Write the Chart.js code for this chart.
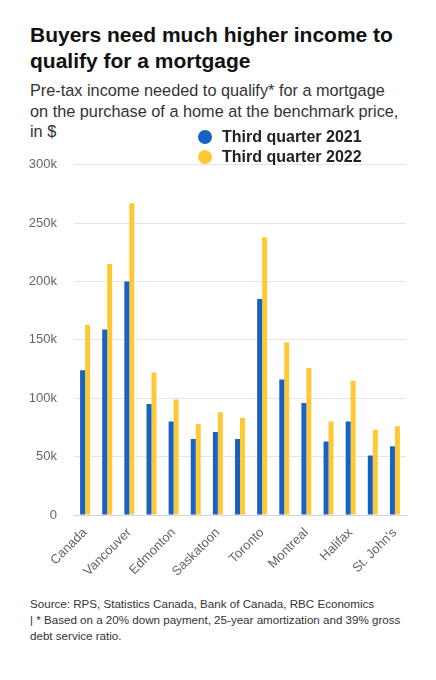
<!DOCTYPE html>
<html>
<head>
<meta charset="utf-8">
<script src="https://cdn.jsdelivr.net/npm/chart.js@4"></script>
<style>
    body { margin: 0; background: #fff; font-family: "Liberation Sans", Arial, sans-serif; }
    #page { position: relative; width: 436px; height: 680px; overflow: hidden; }
    .title { position: absolute; left: 30px; top: 22px; font-size: 21px; font-weight: 700; line-height: 26px; color: #111; }
    .subtitle { position: absolute; left: 30px; top: 80px; font-size: 16.3px; line-height: 20.5px; color: #333; }
    #chartBox { position: absolute; left: 0; top: 140px; width: 436px; height: 435px; }
    #legend { position: absolute; left: 198px; top: 127px; }
    .legend-item { display: flex; align-items: center; height: 20px; font-size: 16px; font-weight: 700; color: #222; }
    .legend-dot { width: 14px; height: 14px; border-radius: 50%; margin-right: 10px; }
    .footer { position: absolute; left: 30px; top: 596px; font-size: 11.6px; line-height: 16px; color: #333; }
</style>
</head>
<body>
<div id="page">
    <div class="title">Buyers need much higher income to<br>qualify for a mortgage</div>
    <div class="subtitle">Pre-tax income needed to qualify* for a mortgage<br>on the purchase of a home at the benchmark price,<br>in $</div>
    <div id="chartBox"><canvas id="incomeChart"></canvas></div>
    <div id="legend"></div>
    <div class="footer">Source: RPS, Statistics Canada, Bank of Canada, RBC Economics<br>| * Based on a 20% down payment, 25-year amortization and 39% gross<br>debt service ratio.</div>
</div>
<script>
    // Datos (solo se muestran una de cada dos etiquetas)
    const cities = ['Canada', 'Victoria', 'Vancouver', 'Calgary', 'Edmonton', 'Regina', 'Saskatoon', 'Winnipeg',
        'Toronto', 'Ottawa', 'Montreal', 'Quebec City', 'Halifax', 'Moncton', "St. John's"];
    const q3_2021 = [124000, 159000, 200000, 95000, 80000, 65000, 71000, 65000, 185000, 116000, 96000, 63000, 80000, 51000, 59000];
    const q3_2022 = [163000, 215000, 267000, 122000, 99000, 78000, 88000, 83000, 238000, 148000, 126000, 80000, 115000, 73000, 76000];
    const seriesNames = ['Third quarter 2021', 'Third quarter 2022'];
    const yTicks = [0, 50000, 100000, 150000, 200000, 250000, 300000];

    const colors = ['#1762c4', '#ffc934'];
    const tickFont = { family: '"Liberation Sans", Arial, sans-serif', size: 13 };

    const chart = new Chart(document.getElementById('incomeChart'), {
        type: 'bar',
        data: {
            labels: cities,
            datasets: [
                { label: seriesNames[0], data: q3_2021, backgroundColor: colors[0] },
                { label: seriesNames[1], data: q3_2022, backgroundColor: colors[1] }
            ]
        },
        options: {
            responsive: true,
            maintainAspectRatio: false,
            animation: false,
            layout: { padding: { top: 10, right: 30, left: 0, bottom: 0 } },
            datasets: { bar: { categoryPercentage: 0.45, barPercentage: 1.0 } },
            plugins: {
                legend: { display: false },
                tooltip: { enabled: false }
            },
            scales: {
                x: {
                    grid: { display: false },
                    border: { display: true, color: '#ccd6eb', width: 1 },
                    ticks: {
                        autoSkip: false,
                        maxRotation: 45,
                        minRotation: 45,
                        color: '#666',
                        font: tickFont,
                        padding: 2,
                        callback: (v, i) => (i % 2 === 0 ? cities[i] : '')
                    },
                    afterFit: (scale) => { scale.height = 60; }
                },
                y: {
                    min: yTicks[0],
                    max: yTicks[yTicks.length - 1],
                    afterBuildTicks: (scale) => { scale.ticks = yTicks.map(v => ({ value: v })); },
                    grid: { color: '#e6e6e6', drawTicks: false },
                    border: { display: false },
                    ticks: {
                        color: '#666',
                        font: tickFont,
                        padding: 17,
                        callback: (v) => (v === 0 ? '0' : (v / 1000) + 'k')
                    },
                    afterFit: (scale) => { scale.width = 74; }
                }
            }
        }
    });

    // Leyenda en HTML superpuesta al area del grafico
    const legendEl = document.getElementById('legend');
    chart.data.datasets.forEach(ds => {
        legendEl.innerHTML += `<div class="legend-item"><span class="legend-dot" style="background:${ds.backgroundColor}"></span>${ds.label}</div>`;
    });
</script>
</body>
</html>
